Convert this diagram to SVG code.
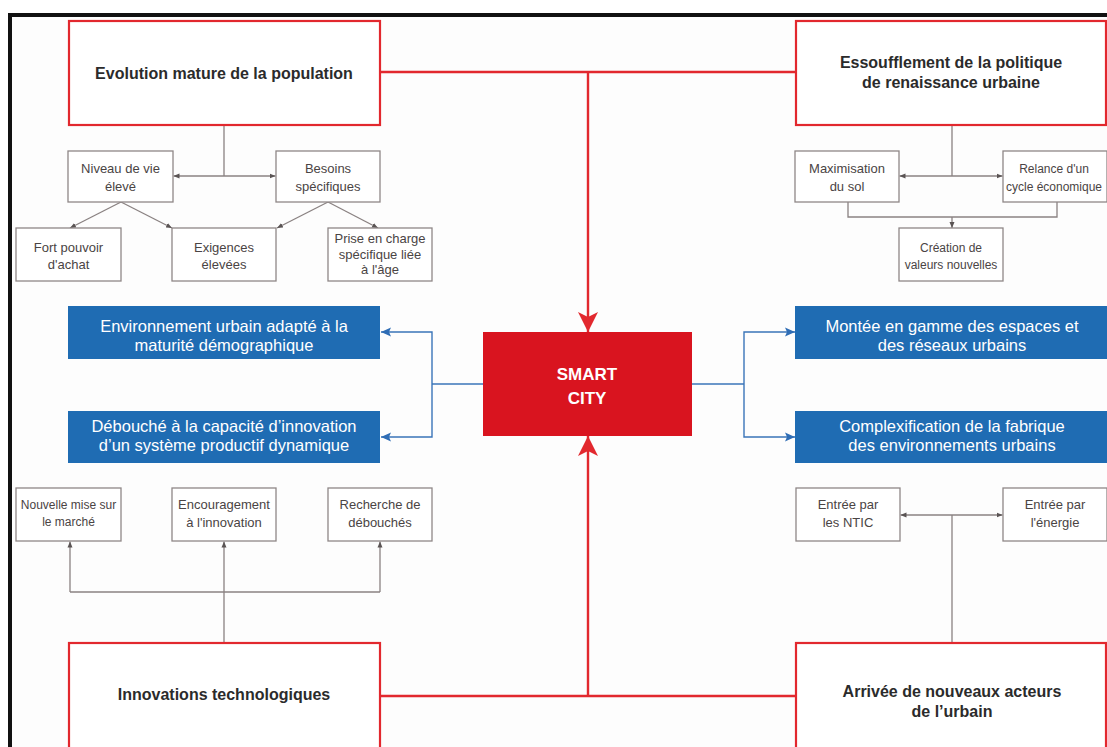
<svg xmlns="http://www.w3.org/2000/svg" width="1107" height="747" viewBox="0 0 1107 747">
  <defs>
    <style>
      .frame { fill: #111; }
      .main { fill: #fff; stroke: #e2282e; stroke-width: 2.2; }
      .sub { fill: #fff; stroke: #8f8787; stroke-width: 1.3; }
      .blue { fill: #1f6cb3; }
      .core { fill: #d9141f; }
      .t-main { font-family: "Liberation Sans", Arial, sans-serif; font-weight: bold; font-size: 16px; fill: #2b2b2b; text-anchor: middle; }
      .t-sub { font-family: "Liberation Sans", Arial, sans-serif; font-size: 13px; fill: #4a4444; text-anchor: middle; }
      .t-sm { font-size: 12px; }
      .t-blue { font-family: "Liberation Sans", Arial, sans-serif; font-size: 16.5px; fill: #fff; text-anchor: middle; }
      .t-core { font-family: "Liberation Sans", Arial, sans-serif; font-weight: bold; font-size: 17px; fill: #fff; text-anchor: middle; }
      .c-red { fill: none; stroke: #e2282e; stroke-width: 2.4; }
      .c-blue { fill: none; stroke: #3a74b8; stroke-width: 1.4; }
      .c-gray { fill: none; stroke: #8a8282; stroke-width: 1.3; }
    </style>
    <marker id="ah-red" viewBox="0 0 20 24" refX="20" refY="12" markerWidth="20" markerHeight="24" markerUnits="userSpaceOnUse" orient="auto">
      <path d="M0,2 L20,12 L0,22 L5,12 Z" fill="#e2282e"/>
    </marker>
    <marker id="ah-blue" viewBox="0 0 10 10" refX="10" refY="5" markerWidth="10" markerHeight="10" markerUnits="userSpaceOnUse" orient="auto">
      <path d="M0,0.5 L10,5 L0,9.5 L2,5 Z" fill="#2f6db5"/>
    </marker>
    <marker id="ah-gray" viewBox="0 0 6 6" refX="6" refY="3" markerWidth="6" markerHeight="6" markerUnits="userSpaceOnUse" orient="auto">
      <path d="M0,0.5 L6,3 L0,5.5 Z" fill="#5a5454"/>
    </marker>
  </defs>

  <!-- page and frame -->
  <rect x="0" y="0" width="1107" height="747" fill="#fdfdfd"/>
  <rect x="0" y="0" width="1107" height="13" fill="#fff"/>
  <rect x="0" y="13" width="8" height="734" fill="#fff"/>
  <rect class="frame" x="8" y="13" width="1099" height="4"/>
  <rect class="frame" x="8" y="13" width="4" height="734"/>

  <!-- connectors -->
  <g id="connectors">
    <!-- red: drivers into the core -->
    <path class="c-red" d="M380,72 H796"/>
    <path class="c-red" d="M588,72 V332" marker-end="url(#ah-red)"/>
    <path class="c-red" d="M380,696 H796"/>
    <path class="c-red" d="M588,696 V436" marker-end="url(#ah-red)"/>
    <!-- blue: core outputs -->
    <path class="c-blue" d="M483,384 H432"/>
    <path class="c-blue" d="M432,384 V332 H381" marker-end="url(#ah-blue)"/>
    <path class="c-blue" d="M432,384 V437 H381" marker-end="url(#ah-blue)"/>
    <path class="c-blue" d="M692,384 H744"/>
    <path class="c-blue" d="M744,384 V332 H795" marker-end="url(#ah-blue)"/>
    <path class="c-blue" d="M744,384 V437 H795" marker-end="url(#ah-blue)"/>
    <!-- gray: population branch -->
    <path class="c-gray" d="M224,125 V176"/>
    <path class="c-gray" d="M224,176 H173.5" marker-end="url(#ah-gray)"/>
    <path class="c-gray" d="M224,176 H275.5" marker-end="url(#ah-gray)"/>
    <path class="c-gray" d="M121,202 L70,228" marker-end="url(#ah-gray)"/>
    <path class="c-gray" d="M121,202 L172,228" marker-end="url(#ah-gray)"/>
    <path class="c-gray" d="M328,202 L277,228" marker-end="url(#ah-gray)"/>
    <path class="c-gray" d="M328,202 L378,228" marker-end="url(#ah-gray)"/>
    <!-- gray: urban renewal branch -->
    <path class="c-gray" d="M952,125 V176"/>
    <path class="c-gray" d="M952,176 H899.5" marker-end="url(#ah-gray)"/>
    <path class="c-gray" d="M952,176 H1002.5" marker-end="url(#ah-gray)"/>
    <path class="c-gray" d="M848,202 V217 H1057 V202"/>
    <path class="c-gray" d="M952,217 V228" marker-end="url(#ah-gray)"/>
    <!-- gray: technology branch -->
    <path class="c-gray" d="M224,643 V541.5" marker-end="url(#ah-gray)"/>
    <path class="c-gray" d="M70,592 H380"/>
    <path class="c-gray" d="M70,592 V541.5" marker-end="url(#ah-gray)"/>
    <path class="c-gray" d="M380,592 V541.5" marker-end="url(#ah-gray)"/>
    <!-- gray: new actors branch -->
    <path class="c-gray" d="M952,643 V515"/>
    <path class="c-gray" d="M952,515 H900.5" marker-end="url(#ah-gray)"/>
    <path class="c-gray" d="M952,515 H1002.5" marker-end="url(#ah-gray)"/>
  </g>

  <!-- core -->
  <g id="smart-city">
    <rect class="core" x="483" y="332" width="209" height="104"/>
    <text class="t-core" x="587" y="380">SMART</text>
    <text class="t-core" x="587" y="404">CITY</text>
  </g>

  <!-- drivers -->
  <g id="evolution-population">
    <rect class="main" x="69" y="21" width="311" height="104"/>
    <text class="t-main" x="224" y="79">Evolution mature de la population</text>
  </g>
  <g id="essoufflement">
    <rect class="main" x="796" y="21" width="310" height="104"/>
    <text class="t-main" x="951" y="68">Essoufflement de la politique</text>
    <text class="t-main" x="951" y="88">de renaissance urbaine</text>
  </g>
  <g id="innovations">
    <rect class="main" x="69" y="643" width="311" height="110"/>
    <text class="t-main" x="224" y="700">Innovations technologiques</text>
  </g>
  <g id="nouveaux-acteurs">
    <rect class="main" x="796" y="643" width="310" height="110"/>
    <text class="t-main" x="952" y="697">Arrivée de nouveaux acteurs</text>
    <text class="t-main" x="952" y="717">de l’urbain</text>
  </g>

  <!-- outputs -->
  <g id="environnement-adapte">
    <rect class="blue" x="68" y="306" width="312" height="53"/>
    <text class="t-blue" x="224" y="332">Environnement urbain adapté à la</text>
    <text class="t-blue" x="224" y="351">maturité démographique</text>
  </g>
  <g id="debouche-innovation">
    <rect class="blue" x="68" y="411" width="312" height="52"/>
    <text class="t-blue" x="224" y="432">Débouché à la capacité d’innovation</text>
    <text class="t-blue" x="224" y="451">d’un système productif dynamique</text>
  </g>
  <g id="montee-gamme">
    <rect class="blue" x="795" y="306" width="312" height="53"/>
    <text class="t-blue" x="952" y="332">Montée en gamme des espaces et</text>
    <text class="t-blue" x="952" y="351">des réseaux urbains</text>
  </g>
  <g id="complexification">
    <rect class="blue" x="795" y="411" width="312" height="52"/>
    <text class="t-blue" x="952" y="432">Complexification de la fabrique</text>
    <text class="t-blue" x="952" y="451">des environnements urbains</text>
  </g>

  <!-- population sub-items -->
  <g id="niveau-vie">
    <rect class="sub" x="68" y="151" width="105" height="51"/>
    <text class="t-sub" x="120.5" y="173">Niveau de vie</text>
    <text class="t-sub" x="120.5" y="191">élevé</text>
  </g>
  <g id="besoins">
    <rect class="sub" x="276" y="151" width="104" height="51"/>
    <text class="t-sub" x="328" y="173">Besoins</text>
    <text class="t-sub" x="328" y="191">spécifiques</text>
  </g>
  <g id="pouvoir-achat">
    <rect class="sub" x="16" y="228" width="105" height="53"/>
    <text class="t-sub" x="68.5" y="252">Fort pouvoir</text>
    <text class="t-sub" x="68.5" y="269">d'achat</text>
  </g>
  <g id="exigences">
    <rect class="sub" x="172" y="228" width="104" height="53"/>
    <text class="t-sub" x="224" y="252">Exigences</text>
    <text class="t-sub" x="224" y="269">élevées</text>
  </g>
  <g id="prise-en-charge">
    <rect class="sub" x="328" y="228" width="104" height="53"/>
    <text class="t-sub" x="380" y="243">Prise en charge</text>
    <text class="t-sub" x="380" y="259">spécifique liée</text>
    <text class="t-sub" x="380" y="274">à l'âge</text>
  </g>

  <!-- urban renewal sub-items -->
  <g id="maximisation">
    <rect class="sub" x="795" y="151" width="104" height="51"/>
    <text class="t-sub" x="847" y="173">Maximisation</text>
    <text class="t-sub" x="847" y="191">du sol</text>
  </g>
  <g id="relance">
    <rect class="sub" x="1003" y="151" width="104" height="51"/>
    <text class="t-sub t-sm" x="1054" y="173">Relance d'un</text>
    <text class="t-sub t-sm" x="1054" y="191">cycle économique</text>
  </g>
  <g id="creation-valeurs">
    <rect class="sub" x="899" y="228" width="104" height="53"/>
    <text class="t-sub t-sm" x="951" y="252">Création de</text>
    <text class="t-sub t-sm" x="951" y="269">valeurs nouvelles</text>
  </g>

  <!-- technology sub-items -->
  <g id="mise-marche">
    <rect class="sub" x="16" y="488" width="105" height="53"/>
    <text class="t-sub t-sm" x="68.5" y="509">Nouvelle mise sur</text>
    <text class="t-sub t-sm" x="68.5" y="526">le marché</text>
  </g>
  <g id="encouragement">
    <rect class="sub" x="172" y="488" width="104" height="53"/>
    <text class="t-sub" x="224" y="509">Encouragement</text>
    <text class="t-sub" x="224" y="527">à l'innovation</text>
  </g>
  <g id="recherche-debouches">
    <rect class="sub" x="328" y="488" width="104" height="53"/>
    <text class="t-sub" x="380" y="509">Recherche de</text>
    <text class="t-sub" x="380" y="527">débouchés</text>
  </g>

  <!-- new actors sub-items -->
  <g id="entree-ntic">
    <rect class="sub" x="796" y="488" width="104" height="53"/>
    <text class="t-sub" x="848" y="509">Entrée par</text>
    <text class="t-sub" x="848" y="527">les NTIC</text>
  </g>
  <g id="entree-energie">
    <rect class="sub" x="1003" y="488" width="104" height="53"/>
    <text class="t-sub" x="1055" y="509">Entrée par</text>
    <text class="t-sub" x="1055" y="527">l'énergie</text>
  </g>
</svg>
